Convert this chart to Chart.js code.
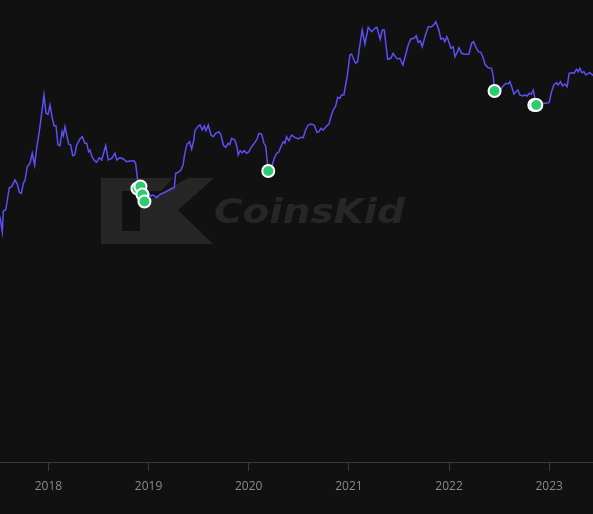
<!DOCTYPE html>
<html>
<head>
<meta charset="utf-8">
<script src="https://cdn.jsdelivr.net/npm/chart.js@4/dist/chart.umd.min.js"></script>
<style>
  html, body { margin: 0; padding: 0; background: #111111; }
  #wrap { width: 593px; height: 514px; }
</style>
</head>
<body>
<div id="wrap"><canvas id="priceChart"></canvas></div>
<script>
// Price history (x in decimal years, y in chart units)
const years = [
  2017.517, 2017.540, 2017.550, 2017.574, 2017.590, 2017.610, 2017.634, 2017.667, 2017.690, 2017.710,
  2017.730, 2017.750, 2017.767, 2017.789, 2017.816, 2017.839, 2017.863, 2017.883, 2017.909, 2017.929,
  2017.956, 2017.976, 2017.996, 2018.016, 2018.036, 2018.056, 2018.076, 2018.096, 2018.116, 2018.136,
  2018.149, 2018.166, 2018.183, 2018.203, 2018.223, 2018.243, 2018.263, 2018.283, 2018.315, 2018.338,
  2018.365, 2018.382, 2018.402, 2018.415, 2018.435, 2018.462, 2018.482, 2018.508, 2018.532, 2018.572,
  2018.598, 2018.632, 2018.665, 2018.682, 2018.715, 2018.748, 2018.781, 2018.814, 2018.857, 2018.871,
  2018.891, 2018.919, 2018.954, 2018.997, 2019.024, 2019.047, 2019.081, 2019.114, 2019.164, 2019.204,
  2019.237, 2019.257, 2019.271, 2019.297, 2019.324, 2019.344, 2019.364, 2019.384, 2019.410, 2019.430,
  2019.450, 2019.463, 2019.490, 2019.513, 2019.536, 2019.556, 2019.573, 2019.596, 2019.623, 2019.646,
  2019.670, 2019.703, 2019.723, 2019.746, 2019.770, 2019.796, 2019.810, 2019.830, 2019.862, 2019.882,
  2019.895, 2019.915, 2019.935, 2019.955, 2019.979, 2020.002, 2020.029, 2020.055, 2020.079, 2020.102,
  2020.129, 2020.152, 2020.169, 2020.189, 2020.197, 2020.235, 2020.255, 2020.275, 2020.301, 2020.321,
  2020.344, 2020.361, 2020.378, 2020.401, 2020.428, 2020.461, 2020.494, 2020.521, 2020.544, 2020.568,
  2020.594, 2020.621, 2020.654, 2020.681, 2020.701, 2020.721, 2020.744, 2020.778, 2020.801, 2020.821,
  2020.844, 2020.868, 2020.888, 2020.910, 2020.927, 2020.950, 2020.967, 2020.983, 2021.010, 2021.027,
  2021.047, 2021.067, 2021.087, 2021.110, 2021.133, 2021.160, 2021.193, 2021.227, 2021.260, 2021.280,
  2021.313, 2021.333, 2021.353, 2021.387, 2021.419, 2021.442, 2021.466, 2021.486, 2021.509, 2021.539,
  2021.566, 2021.592, 2021.619, 2021.652, 2021.672, 2021.692, 2021.712, 2021.732, 2021.759, 2021.792,
  2021.826, 2021.851, 2021.868, 2021.898, 2021.918, 2021.941, 2021.958, 2021.978, 2021.998, 2022.018,
  2022.041, 2022.058, 2022.085, 2022.098, 2022.125, 2022.151, 2022.175, 2022.198, 2022.225, 2022.245,
  2022.265, 2022.291, 2022.317, 2022.341, 2022.358, 2022.390, 2022.424, 2022.440, 2022.454, 2022.507,
  2022.534, 2022.567, 2022.590, 2022.607, 2022.627, 2022.647, 2022.667, 2022.687, 2022.707, 2022.734,
  2022.757, 2022.780, 2022.800, 2022.820, 2022.840, 2022.854, 2022.867, 2022.907, 2022.966, 2022.999,
  2023.023, 2023.046, 2023.073, 2023.089, 2023.113, 2023.133, 2023.156, 2023.179, 2023.199, 2023.223,
  2023.246, 2023.273, 2023.289, 2023.306, 2023.326, 2023.346, 2023.366, 2023.389, 2023.406, 2023.432,
  2023.440
];
const prices = [
  245.3, 230.3, 251.0, 252.0, 262.0, 274.3, 275.3, 282.0, 277.7, 269.7,
  268.7, 278.7, 282.0, 295.3, 298.7, 308.7, 297.0, 313.7, 330.3, 345.3,
  367.0, 348.7, 347.7, 357.0, 345.3, 336.3, 336.3, 317.0, 316.3, 330.3,
  326.3, 335.3, 327.0, 317.7, 317.0, 306.3, 307.0, 317.0, 323.0, 325.3,
  318.7, 318.7, 310.3, 312.0, 305.3, 301.0, 299.7, 304.3, 302.0, 316.3,
  302.0, 303.7, 308.7, 302.0, 304.3, 303.0, 300.3, 301.0, 301.0, 298.7,
  282.0, 272.0, 266.0, 268.7, 266.0, 267.0, 264.3, 267.7, 269.7, 272.0,
  273.7, 274.3, 288.7, 289.7, 292.0, 297.0, 309.7, 317.7, 320.3, 313.0,
  321.0, 331.3, 335.3, 337.0, 332.0, 336.0, 331.3, 337.0, 327.0, 325.3,
  328.7, 330.3, 327.0, 317.0, 314.7, 318.7, 317.3, 323.7, 322.0, 315.3,
  307.0, 311.3, 309.3, 311.3, 308.7, 310.3, 315.3, 318.7, 322.0, 328.7,
  328.0, 318.7, 316.0, 297.0, 291.0, 297.0, 303.7, 308.0, 310.3, 315.3,
  320.3, 318.7, 325.3, 321.3, 327.0, 324.7, 323.0, 324.7, 324.3, 332.0,
  337.0, 338.0, 337.0, 329.7, 330.3, 333.7, 332.0, 336.0, 338.0, 345.3,
  352.0, 356.0, 364.7, 363.7, 367.0, 367.0, 377.0, 385.3, 407.0, 408.0,
  402.7, 398.7, 400.3, 417.0, 432.0, 418.0, 434.7, 430.3, 433.7, 434.7,
  422.7, 432.0, 432.0, 402.7, 403.7, 408.7, 405.0, 403.0, 403.7, 397.0,
  407.0, 417.0, 423.0, 423.7, 426.3, 419.7, 421.0, 415.3, 425.3, 435.3,
  435.3, 437.7, 440.3, 432.0, 423.0, 423.7, 420.3, 425.3, 420.3, 413.7,
  415.3, 405.3, 410.3, 414.3, 408.7, 407.7, 407.7, 407.7, 418.7, 420.3,
  415.3, 410.3, 409.7, 404.3, 397.7, 394.3, 393.7, 387.0, 371.0, 370.3,
  375.3, 378.7, 378.0, 380.3, 374.7, 368.0, 370.3, 372.0, 367.0, 366.0,
  367.0, 366.0, 368.7, 367.7, 372.0, 365.3, 357.0, 358.7, 358.7, 359.3,
  370.3, 377.0, 379.3, 377.0, 380.3, 376.0, 378.0, 375.3, 388.7, 389.3,
  388.7, 392.7, 390.3, 393.7, 389.3, 390.3, 387.0, 388.7, 389.3, 387.0,
  387.5
];

// Green event markers
const markerYears = [2018.889, 2018.919, 2018.939, 2018.959, 2020.195, 2022.454, 2022.851, 2022.871];
const markerPrices = [273.5, 275.5, 267.5, 260.5, 291.0, 371.0, 357.0, 357.0];

const tickYears = [2018, 2019, 2020, 2021, 2022, 2023];

// Watermark drawn behind the datasets
const watermark = {
  id: "watermark",
  beforeDatasetsDraw(chart) {
    const ctx = chart.ctx;
    ctx.save();
    ctx.fillStyle = "#262626";
    ctx.beginPath();
    ctx.moveTo(101, 178);
    ctx.lineTo(173, 178);
    ctx.lineTo(161, 191);
    ctx.lineTo(122, 191);
    ctx.lineTo(122, 231);
    ctx.lineTo(140, 231);
    ctx.lineTo(140, 205);
    ctx.lineTo(188, 178);
    ctx.lineTo(214, 178);
    ctx.lineTo(178, 210);
    ctx.lineTo(213, 244);
    ctx.lineTo(101, 244);
    ctx.closePath();
    ctx.fill();
    ctx.font = "italic bold 34px 'DejaVu Sans'";
    ctx.textBaseline = "alphabetic";
    const w = ctx.measureText("CoinsKid").width;
    ctx.translate(214, 223);
    ctx.scale(191 / w, 1);
    ctx.fillText("CoinsKid", 0, 0);
    ctx.restore();
  }
};

const ctx = document.getElementById("priceChart").getContext("2d");
new Chart(ctx, {
  type: "line",
  data: {
    datasets: [
      {
        label: "Markers",
        data: markerYears.map((x, i) => ({ x: x, y: markerPrices[i] })),
        showLine: false,
        pointRadius: 6,
        pointHoverRadius: 6,
        pointBorderWidth: 2,
        pointBorderColor: "#ffffff",
        pointBackgroundColor: "#2ecc71",
        order: 0
      },
      {
        label: "Price",
        data: years.map((x, i) => ({ x: x, y: prices[i] })),
        borderColor: "#5b4ff5",
        borderWidth: 1.5,
        pointRadius: 0,
        tension: 0,
        fill: false,
        order: 1
      }
    ]
  },
  options: {
    responsive: true,
    maintainAspectRatio: false,
    animation: false,
    layout: { autoPadding: false, padding: { left: 0, right: 0, top: 0, bottom: 12.6 } },
    plugins: {
      legend: { display: false },
      tooltip: { enabled: false }
    },
    scales: {
      x: {
        type: "linear",
        min: 2017.517,
        max: 2023.437,
        afterBuildTicks: (axis) => {
          axis.ticks = tickYears.map((v) => ({ value: v }));
        },
        grid: {
          drawOnChartArea: false,
          drawTicks: true,
          tickLength: 9,
          color: "#3a3a3a"
        },
        border: { color: "#3a3a3a", width: 1 },
        ticks: {
          padding: 8,
          color: "#8a8a8a",
          font: { family: "'Open Sans'", size: 12 },
          maxRotation: 0,
          callback: (v) => String(v)
        }
      },
      y: {
        display: false,
        min: 0,
        max: 462
      }
    }
  },
  plugins: [watermark]
});
</script>
</body>
</html>
